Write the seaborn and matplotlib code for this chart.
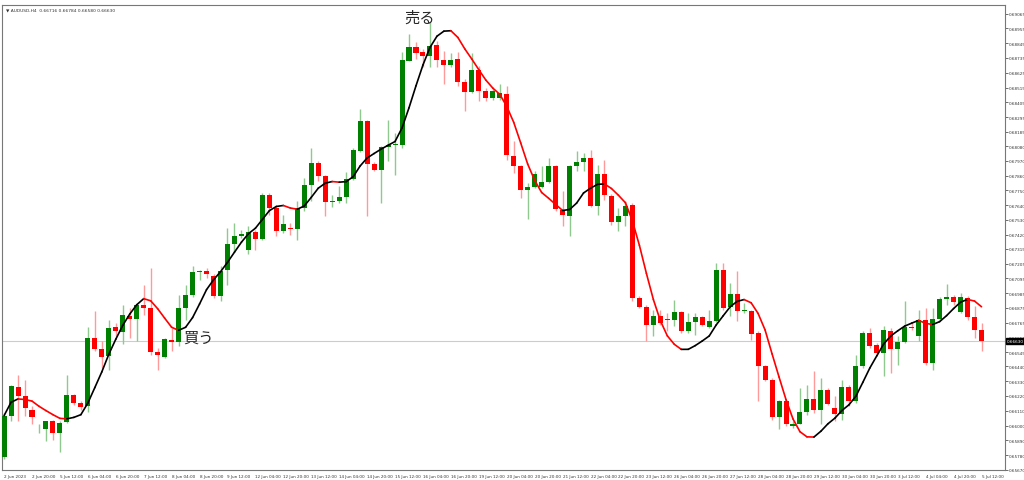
import numpy as np
import pandas as pd
import matplotlib
matplotlib.use("Agg")
import matplotlib.pyplot as plt
import seaborn as sns

# OHLC in 1e-5 price points (AUDUSD H4)
opens = [65763,66074,66290,66223,66119,65971,65978,66037,65948,66030,66230,66171,66149,66653,66572,66520,66735,66698,66816,66794,
         66898,66876,66549,66512,66638,66624,66876,66972,67143,67150,67113,66965,67158,67351,67410,67306,67440,67388,67714,67618,
         67447,67469,67462,67618,67789,67952,67855,67663,67670,67699,67833,68041,68263,67944,67899,68070,68085,68085,68716,68820,
         68783,68753,68835,68723,68686,68731,68553,68479,68649,68493,68441,68434,68464,68004,67930,67751,67774,67774,67811,67930,
         67603,67558,67930,67959,67989,67633,67870,67707,67513,67558,67640,66950,66883,66750,66816,66791,66787,66846,66705,66771,
         66809,66735,66779,67158,66883,66980,66854,66854,66690,66445,66342,66060,66179,66000,66015,66104,66201,66112,66268,66127,
         66089,66290,66179,66445,66690,66601,66542,66705,66572,66624,66735,66668,66787,66468,66794,66943,66957,66846,66950,66809,66713]
highs = [66097,66304,66379,66342,66149,66008,66037,66045,66037,66379,66238,66186,66735,66854,66631,66787,66764,66898,66876,66913,
         67046,67173,66579,66653,66727,66972,67046,67187,67158,67173,67128,67187,67471,67507,67455,67484,67455,67729,67729,67633,
         67566,67507,67670,67840,68063,67967,67863,67714,67781,67885,68063,68352,68271,67959,68078,68271,68174,68783,68916,68857,
         68805,69000,68864,68790,68775,68783,68582,68775,68679,68508,68501,68545,68523,68115,67937,67803,67892,67930,67989,67937,
         67744,67937,68041,68026,68048,67937,67974,67722,67618,67670,67655,66965,66898,66861,66861,66839,66935,66854,66839,66839,
         66816,66861,67211,67211,67061,67150,66913,66861,66705,66453,66356,66193,66193,66037,66282,66304,66408,66356,66282,66223,
         66342,66304,66527,66705,66727,66616,66742,66727,66668,66928,66764,66861,66876,66876,66957,67054,66972,66987,66965,66891,66764]
lows = [65748,66037,66037,66074,66015,65948,65882,65889,65800,66022,66156,66112,66104,66557,66431,66416,66668,66609,66653,66631,
        66824,66527,66416,66505,66557,66594,66787,66957,67084,67098,66950,66928,67046,67299,67395,67276,67306,67380,67566,67410,
        67432,67418,67380,67596,67670,67818,67558,67625,67655,67655,67826,68033,67558,67892,67655,67967,67863,68063,68709,68731,
        68671,68671,68671,68545,68671,68523,68338,68471,68412,68412,68419,68419,67974,67878,67692,67540,67766,67766,67803,67596,
        67484,67410,67892,67892,67625,67566,67677,67492,67447,67484,66928,66876,66631,66668,66750,66705,66742,66690,66690,66676,
        66742,66727,66771,66861,66816,66779,66839,66638,66186,66334,66045,65971,66000,65985,66008,66082,66097,66008,66156,66037,
        66045,66149,66171,66431,66579,66527,66371,66394,66453,66616,66713,66631,66453,66416,66787,66898,66898,66839,66787,66653,66554]
closes = [66074,66297,66223,66134,66067,65978,66037,65948,66022,66230,66171,66141,66653,66572,66512,66727,66705,66824,66794,66898,
          66876,66549,66527,66646,66624,66876,66972,67143,67150,67128,66965,67150,67351,67410,67425,67440,67388,67714,67618,67447,
          67499,67462,67618,67789,67952,67855,67663,67670,67699,67833,68048,68263,67944,67899,68070,68085,68093,68723,68820,68775,
          68753,68827,68723,68686,68723,68553,68479,68649,68493,68434,68493,68471,68011,67930,67751,67774,67870,67811,67930,67610,
          67566,67930,67959,67989,67633,67870,67714,67513,67558,67633,66951,66883,66750,66816,66764,66787,66846,66705,66771,66809,
          66750,66779,67158,66876,66980,66854,66861,66683,66445,66342,66060,66179,66008,66015,66104,66201,66112,66268,66164,66089,
          66290,66179,66445,66690,66594,66542,66713,66572,66624,66735,66727,66787,66468,66794,66943,66957,66920,66957,66809,66713,66631]

x_labels = ["2 Jun 2023","2 Jun 20:00","5 Jun 12:00","6 Jun 04:00","6 Jun 20:00","7 Jun 12:00","8 Jun 04:00","8 Jun 20:00",
            "9 Jun 12:00","12 Jun 04:00","12 Jun 20:00","13 Jun 12:00","14 Jun 04:00","14 Jun 20:00","15 Jun 12:00","16 Jun 04:00",
            "16 Jun 20:00","19 Jun 12:00","20 Jun 04:00","20 Jun 20:00","21 Jun 12:00","22 Jun 04:00","22 Jun 20:00","23 Jun 12:00",
            "26 Jun 04:00","26 Jun 20:00","27 Jun 12:00","28 Jun 04:00","28 Jun 20:00","29 Jun 12:00","30 Jun 04:00","30 Jun 20:00",
            "3 Jul 12:00","4 Jul 04:00","4 Jul 20:00","5 Jul 12:00"]
y_ticks = [0.69065,0.68955,0.68845,0.68735,0.68625,0.68515,0.68405,0.68295,0.68185,0.68080,0.67970,0.67860,0.67750,0.67640,
           0.67530,0.67420,0.67315,0.67205,0.67095,0.66985,0.66875,0.66765,0.66655,0.66545,0.66440,0.66330,0.66220,0.66110,
           0.66000,0.65890,0.65780,0.65670]
last_price = 0.66630
title = "▼ AUDUSD,H4  0.66716 0.66784 0.66580 0.66630"

sns.set_theme(style="white")
plt.rcParams['font.family'] = ['DejaVu Sans']

df = pd.DataFrame({"o": opens, "h": highs, "l": lows, "c": closes}) / 1e5
n = len(df)
idx = np.arange(n)

fig = plt.figure(figsize=(10.24, 4.81), dpi=100)
ax = fig.add_axes([0.002, 0.021, 0.979, 0.967])

up = df.c >= df.o
green, red = "#008000", "#ff0000"
ax.vlines(idx[up], df.l[up], df.h[up], color="#8fc98f", lw=1, zorder=2)
ax.vlines(idx[~up], df.l[~up], df.h[~up], color="#ff9a9a", lw=1, zorder=2)
body = (df.c - df.o).abs().clip(lower=0.00003)
bottom = np.minimum(df.o, df.c)
ax.bar(idx[up], body[up], bottom=bottom[up], width=0.72, color=green, zorder=3, linewidth=0)
ax.bar(idx[~up], body[~up], bottom=bottom[~up], width=0.72, color=red, zorder=3, linewidth=0)

# Hull moving average (WMA based)
def wma(s, p):
    def f(a):
        w = np.arange(1, len(a) + 1)
        return np.dot(a, w) / w.sum()
    return s.rolling(p, min_periods=1).apply(f, raw=True)
def hull(s, p):
    return wma(2 * wma(s, p // 2) - wma(s, p), int(np.sqrt(p)))
ma = hull(df.c, 16).values
for i in range(n - 1):
    col = "black" if ma[i + 1] >= ma[i] else "red"
    ax.plot(idx[i:i + 2], ma[i:i + 2], color=col, lw=1.2, zorder=4)

ax.axhline(last_price, color="#cccccc", lw=0.8, zorder=1)

ax.set_xlim(-0.29, 143.3)
ax.set_ylim(0.65681, 0.69131)
ax.yaxis.tick_right()
ax.set_yticks(y_ticks)
ax.set_yticklabels([f"{v:.5f}" for v in y_ticks], fontsize=3.0, color="#333333")
ax.set_xticks(np.arange(len(x_labels)) * 4)
ax.set_xticklabels(x_labels, fontsize=3.0, color="#333333", ha="left")
ax.tick_params(axis="both", length=2, width=0.5, pad=1, colors="#333333", labelcolor="#333333", direction="out")
for s in ax.spines.values():
    s.set_color("#777777"); s.set_linewidth(0.8)
ax.text(1.002, last_price, f"{last_price:.5f}", transform=ax.get_yaxis_transform(), fontsize=3.0,
        color="white", va="center", ha="left", bbox=dict(boxstyle="square,pad=0.2", fc="black", ec="black"))
ax.text(0.004, 0.995, title, transform=ax.transAxes, fontsize=3.2, va="top", ha="left", color="#333333")

ax.text(59.5, 0.69040, "売る", fontsize=11, family=["Noto Sans CJK JP"], ha="center", va="center")
ax.text(27.8, 0.66660, "買う", fontsize=11, family=["Noto Sans CJK JP"], ha="center", va="center")

fig.savefig("out.png", dpi=100)
